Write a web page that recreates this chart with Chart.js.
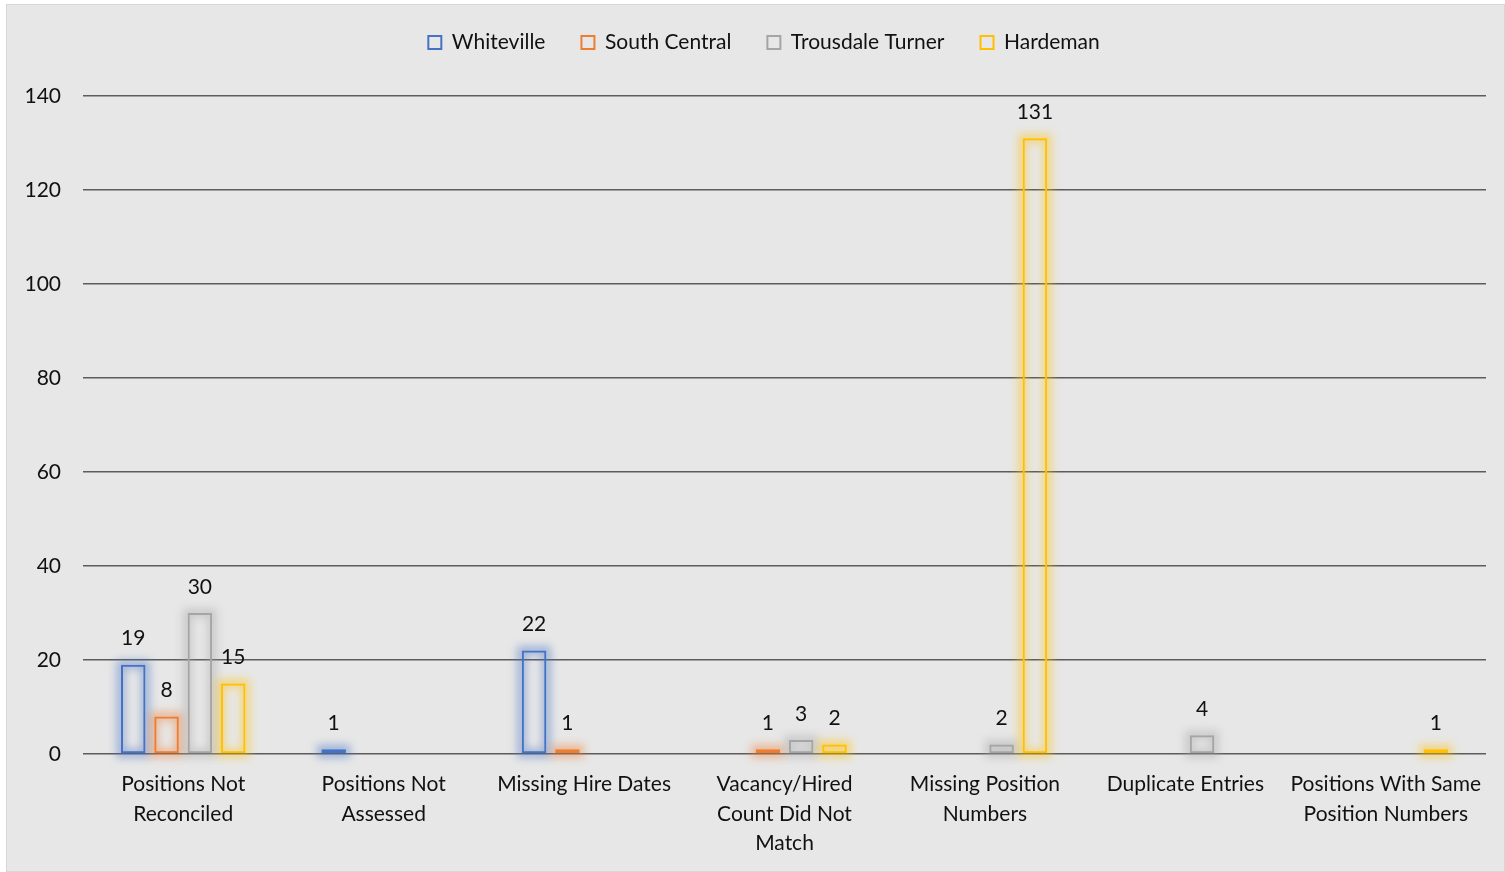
<!DOCTYPE html>
<html>
<head>
<meta charset="utf-8">
<script src="https://cdn.jsdelivr.net/npm/chart.js@4/dist/chart.umd.min.js"></script>
<style>
  html, body { margin: 0; padding: 0; background: #fff; }
  .frame {
    position: absolute; left: 6px; top: 4px; width: 1497px; height: 866px;
    background: #e7e7e7; border: 1px solid #d6d6d6;
  }
  #chart { position: absolute; left: 0; top: 0; }
</style>
</head>
<body>
<div class="frame"></div>
<canvas id="chart" width="1505" height="872"></canvas>
<script>
const categories = [
  ["Positions Not", "Reconciled"],
  ["Positions Not", "Assessed"],
  "Missing Hire Dates",
  ["Vacancy/Hired", "Count Did Not", "Match"],
  ["Missing Position", "Numbers"],
  "Duplicate Entries",
  ["Positions With Same", "Position Numbers"]
];
const whiteville      = [19, 1, 22, null, null, null, null];
const southCentral    = [8, null, 1, 1, null, null, null];
const trousdaleTurner = [30, null, null, 3, 2, 4, null];
const hardeman        = [15, null, null, 2, 131, null, 1];

const yTicks = [0, 20, 40, 60, 80, 100, 120, 140];

const FONT = "Lato, 'Noto Sans', sans-serif";
const FONT_SIZE = 21;
const TEXT = '#111';

function rgba(hex, a) {
  const n = parseInt(hex.slice(1), 16);
  return `rgba(${n >> 16}, ${(n >> 8) & 255}, ${n & 255}, ${a})`;
}

function series(label, data, color) {
  return {
    label,
    data,
    borderColor: color,
    backgroundColor: 'rgba(0,0,0,0)',
    borderWidth: 2,
    borderSkipped: false,
    glow: color
  };
}

// soft coloured halo behind each bar
const barGlow = {
  id: 'barGlow',
  beforeDatasetsDraw(chart) {
    const ctx = chart.ctx;
    chart.data.datasets.forEach((ds, i) => {
      const meta = chart.getDatasetMeta(i);
      meta.data.forEach((bar, j) => {
        if (ds.data[j] == null) return;
        const {x, y, base, width} = bar.getProps(['x', 'y', 'base', 'width'], true);
        ctx.save();
        ctx.filter = 'blur(4px)';
        ctx.strokeStyle = rgba(ds.glow, 0.45);
        ctx.lineWidth = 9;
        ctx.strokeRect(x - width / 2, y, width, base - y);
        ctx.restore();
      });
    });
  }
};

// value printed above each bar
const valueLabels = {
  id: 'valueLabels',
  afterDatasetsDraw(chart) {
    const ctx = chart.ctx;
    ctx.save();
    ctx.font = `${FONT_SIZE}px ${FONT}`;
    ctx.fillStyle = TEXT;
    ctx.textAlign = 'center';
    ctx.textBaseline = 'middle';
    chart.data.datasets.forEach((ds, i) => {
      chart.getDatasetMeta(i).data.forEach((bar, j) => {
        const v = ds.data[j];
        if (v == null) return;
        ctx.fillText(String(v), bar.x, bar.y - 26);
      });
    });
    ctx.restore();
  }
};

new Chart(document.getElementById('chart'), {
  type: 'bar',
  data: {
    labels: categories,
    datasets: [
      series('Whiteville', whiteville, '#4472C4'),
      series('South Central', southCentral, '#ED7D31'),
      series('Trousdale Turner', trousdaleTurner, '#A5A5A5'),
      series('Hardeman', hardeman, '#FFC000')
    ]
  },
  options: {
    responsive: false,
    animation: false,
    categoryPercentage: 0.665,
    barPercentage: 0.735,
    layout: { padding: { top: -4, right: 0, bottom: 10, left: 23 } },
    plugins: {
      legend: {
        display: true,
        position: 'top',
        labels: {
          boxWidth: 13,
          boxHeight: 13,
          padding: 36,
          color: TEXT,
          font: { family: FONT, size: FONT_SIZE }
        }
      },
      // empty spacer between legend and plot
      subtitle: {
        display: true,
        text: '',
        weight: 500,
        padding: 0,
        font: { size: 33, lineHeight: 1 }
      },
      // empty strip on the right so the legend sits a little right of centre
      title: {
        display: true,
        text: '',
        position: 'right',
        fullSize: false,
        padding: 0,
        font: { size: 19, lineHeight: 1 }
      },
      tooltip: { enabled: false }
    },
    scales: {
      x: {
        afterFit(axis) { axis.height = 108; },
        grid: { display: false, drawTicks: false },
        border: { display: false },
        ticks: {
          color: TEXT,
          padding: 16,
          maxRotation: 0,
          autoSkip: false,
          font: { family: FONT, size: FONT_SIZE, lineHeight: 1.4 }
        }
      },
      y: {
        min: 0,
        max: 140,
        afterBuildTicks(axis) {
          axis.ticks = yTicks.map(v => ({ value: v }));
        },
        afterFit(axis) { axis.width = 60; },
        grid: { color: '#5c5c5c', lineWidth: 1.4, drawTicks: false },
        border: { display: false },
        ticks: {
          color: TEXT,
          padding: 22,
          font: { family: FONT, size: FONT_SIZE }
        }
      }
    }
  },
  plugins: [barGlow, valueLabels]
});
</script>
</body>
</html>
